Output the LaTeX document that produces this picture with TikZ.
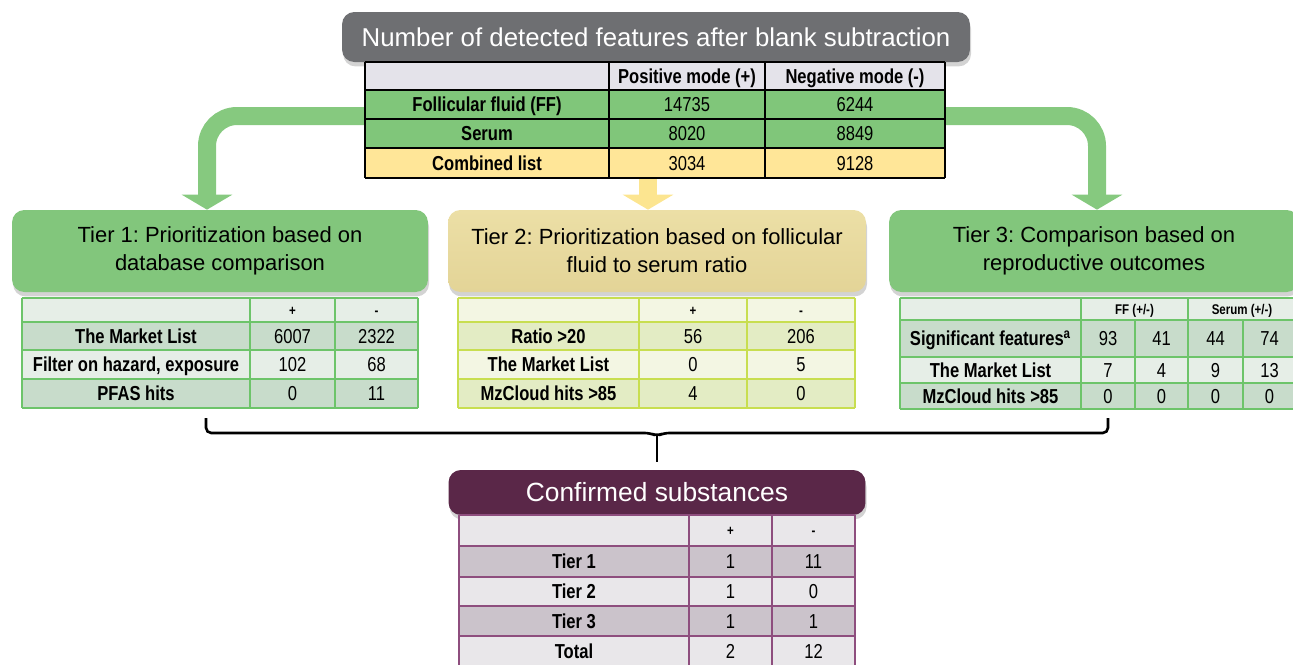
\documentclass[tikz,border=0pt]{standalone}
\usepackage{fontspec}
\setmainfont{Liberation Sans}
\newfontfamily\narrowfont[FakeStretch=0.82]{Liberation Sans}
\usetikzlibrary{arrows.meta,shadows,positioning}
\frenchspacing

\definecolor{titlegray}{HTML}{6E6F72}
\definecolor{tiergreen}{HTML}{82C67C}
\definecolor{khakitop}{HTML}{ECDFA6}
\definecolor{khakibot}{HTML}{E3D497}
\definecolor{confpurple}{HTML}{5A2748}
\definecolor{ffgreen}{HTML}{80C67A}
\definecolor{combyellow}{HTML}{FFE698}
\definecolor{headgray}{HTML}{E4E3EA}
\definecolor{flowgreen}{HTML}{86C97F}
\definecolor{flowyellow}{HTML}{FCE590}
\definecolor{tgreenA}{HTML}{C8DCCB}
\definecolor{tgreenB}{HTML}{E6EEE7}
\definecolor{tgreenline}{HTML}{6DC46A}
\definecolor{tyelA}{HTML}{E3ECC4}
\definecolor{tyelB}{HTML}{F3F6E3}
\definecolor{tyelline}{HTML}{C8DE50}
\definecolor{tpurA}{HTML}{CBC3CB}
\definecolor{tpurB}{HTML}{E9E7EA}
\definecolor{tpurline}{HTML}{8E4E7E}

\tikzset{
  headbox/.style={rounded corners=7pt,align=center,inner sep=0pt,
    drop shadow={shadow xshift=0.6pt,shadow yshift=-2.5pt,opacity=0.35}},
  labcell/.style={font=\narrowfont\bfseries\fontsize{11.5}{13}\selectfont,inner sep=0pt,
    text height=8.3pt,text depth=0pt},
  numcell/.style={font=\narrowfont\fontsize{11.5}{13}\selectfont,inner sep=0pt,
    text height=8.3pt,text depth=0pt},
  hdcell/.style={font=\narrowfont\bfseries\fontsize{8}{9}\selectfont,inner sep=0pt,
    text height=5.8pt,text depth=0pt},
  flow/.style={line width=0.36cm,rounded corners=0.6cm,-{Triangle[width=1cm,length=0.3cm]}},
  bracket/.style={line width=1.5pt,rounded corners=3pt},
}

\begin{document}
\begin{tikzpicture}[x=0.02cm,y=-0.02cm]
\useasboundingbox (0,0) rectangle (1293,664);

% Heading boxes
\node[headbox,fill=titlegray,text=white,minimum width=12.56cm,minimum height=1cm,
  font=\fontsize{14.7}{18}\selectfont] (detect) at (656,37)
  {Number of detected features after blank subtraction};
\node[headbox,fill=tiergreen,minimum width=8.32cm,minimum height=1.64cm,
  font=\fontsize{12.5}{16}\selectfont] (tierone) at (220,251)
  {Tier 1: Prioritization based on\\database comparison};
\node[headbox,top color=khakitop,bottom color=khakibot,minimum width=8.36cm,minimum height=1.64cm,
  font=\fontsize{12.5}{16}\selectfont] (tiertwo) at (657,251)
  {Tier 2: Prioritization based on follicular\\fluid to serum ratio};
\node[headbox,fill=tiergreen,minimum width=8.2cm,minimum height=1.64cm,
  font=\fontsize{12.5}{16}\selectfont] (tierthree) at (1094,251)
  {Tier 3: Comparison based on\\reproductive outcomes};
\node[headbox,fill=confpurple,text=white,minimum width=8.34cm,minimum height=0.9cm,
  font=\fontsize{15}{18}\selectfont] (confirm) at (657,492.5)
  {Confirmed substances};

% Flow arrows
\coordinate (tabw) at (365,116);
\coordinate (tabe) at (945,116);
\coordinate (tabs) at (648,178);
\draw[flow,flowgreen] (tabw) -| ([xshift=-0.26cm]tierone.north);
\draw[flow,flowgreen] (tabe) -| ([xshift=0.06cm]tierthree.north);
\draw[flow,flowyellow] (tabs) -- (tabs |- tiertwo.north);

% Top table
\fill[headgray] (365,62) rectangle (945,90);
\fill[ffgreen] (365,90) rectangle (945,148);
\fill[combyellow] (365,148) rectangle (945,178);
\foreach \y in {62,90,119,148,178}
  \draw[line width=0.8pt] (365,\y) -- (945,\y);
\foreach \x in {365,609,765,945}
  \draw[line width=0.8pt] (\x,62) -- (\x,178);
\node[labcell] (posmode) at (687,76) {Positive mode (+)};
\node[labcell] (negmode) at (855,76) {Negative mode (-)};
\foreach \y/\n/\lab/\p/\m in {104.5/ff/Follicular fluid (FF)/14735/6244,
    133.5/serum/Serum/8020/8849, 163/comb/Combined list/3034/9128} {
  \node[labcell] (\n) at (487,\y) {\lab};
  \node[numcell] (\n-p) at (687,\y) {\p};
  \node[numcell] (\n-m) at (855,\y) {\m};
}

% Tier 1 table
\foreach \ya/\yb/\c in {298/322/tgreenB,322/350/tgreenA,350/379/tgreenB,379/408/tgreenA}
  \fill[\c] (22,\ya) rectangle (418,\yb);
\foreach \y in {298,322,350,379,408}
  \draw[tgreenline,semithick] (22,\y) -- (418,\y);
\foreach \x in {22,250,335,418}
  \draw[tgreenline,semithick] (\x,298) -- (\x,408);
\node[hdcell] (t1-p) at (292.5,310) {+};
\node[hdcell] (t1-m) at (376.5,310) {-};
\foreach \y/\n/\lab/\p/\m in {336/t1a/The Market List/6007/2322,
    364.5/t1b/{Filter on hazard, exposure}/102/68, 393.5/t1c/PFAS hits/0/11} {
  \node[labcell] (\n) at (136,\y) {\lab};
  \node[numcell] (\n-p) at (292.5,\y) {\p};
  \node[numcell] (\n-m) at (376.5,\y) {\m};
}

% Tier 2 table
\foreach \ya/\yb/\c in {298/322/tyelB,322/350/tyelA,350/379/tyelB,379/408/tyelA}
  \fill[\c] (458,\ya) rectangle (855,\yb);
\foreach \y in {298,322,350,379,408}
  \draw[tyelline,semithick] (458,\y) -- (855,\y);
\foreach \x in {458,639,747,855}
  \draw[tyelline,semithick] (\x,298) -- (\x,408);
\node[hdcell] (t2-p) at (693,310) {+};
\node[hdcell] (t2-m) at (801,310) {-};
\foreach \y/\n/\lab/\p/\m in {336/t2a/Ratio >20/56/206,
    364.5/t2b/The Market List/0/5, 393.5/t2c/MzCloud hits >85/4/0} {
  \node[labcell] (\n) at (548.5,\y) {\lab};
  \node[numcell] (\n-p) at (693,\y) {\p};
  \node[numcell] (\n-m) at (801,\y) {\m};
}

% Tier 3 table
\foreach \ya/\yb/\c in {298/320/tgreenB,320/357/tgreenA,357/383/tgreenB,383/409/tgreenA}
  \fill[\c] (900,\ya) rectangle (1296,\yb);
\foreach \y in {298,320,357,383,409}
  \draw[tgreenline,semithick] (900,\y) -- (1296,\y);
\foreach \x in {900,1081,1188}
  \draw[tgreenline,semithick] (\x,298) -- (\x,409);
\foreach \x in {1135,1243}
  \draw[tgreenline,semithick] (\x,320) -- (\x,409);
\node[hdcell] (t3-ff) at (1134.5,309) {FF (+/-)};
\node[hdcell] (t3-se) at (1242,309) {Serum (+/-)};
\foreach \y/\n/\lab/\a/\b/\c/\d in {338.5/t3a/Significant features\textsuperscript{a}/93/41/44/74,
    370/t3b/The Market List/7/4/9/13, 396/t3c/MzCloud hits >85/0/0/0/0} {
  \node[labcell] (\n) at (990.5,\y) {\lab};
  \node[numcell] (\n-a) at (1108,\y) {\a};
  \node[numcell] (\n-b) at (1161.5,\y) {\b};
  \node[numcell] (\n-c) at (1215.5,\y) {\c};
  \node[numcell] (\n-d) at (1269.5,\y) {\d};
}

% Bracket to the confirmed substances
\coordinate (brl) at (206,418);
\coordinate (brr) at (1108,418);
\coordinate (brm) at (657,436);
\draw[bracket] (brl) |- (650,433) -- (brm) -- (664,433) -| (brr);
\draw[line width=1.5pt] (brm) -- ([yshift=0.16cm]confirm.north);

% Confirmed table
\foreach \ya/\yb/\c in {515/546/tpurB,546/577/tpurA,577/606/tpurB,606/636/tpurA,636/666/tpurB}
  \fill[\c] (459,\ya) rectangle (855,\yb);
\foreach \y in {515,546,577,606,636}
  \draw[tpurline,semithick] (459,\y) -- (855,\y);
\foreach \x in {459,689,772,855}
  \draw[tpurline,semithick] (\x,515) -- (\x,666);
\node[hdcell] (cs-p) at (730.5,530.5) {+};
\node[hdcell] (cs-m) at (813.5,530.5) {-};
\foreach \y/\n/\lab/\p/\m in {561.5/csa/Tier 1/1/11, 591.5/csb/Tier 2/1/0,
    621/csc/Tier 3/1/1, 651/csd/Total/2/12} {
  \node[labcell] (\n) at (574,\y) {\lab};
  \node[numcell] (\n-p) at (730.5,\y) {\p};
  \node[numcell] (\n-m) at (813.5,\y) {\m};
}
\end{tikzpicture}
\end{document}
